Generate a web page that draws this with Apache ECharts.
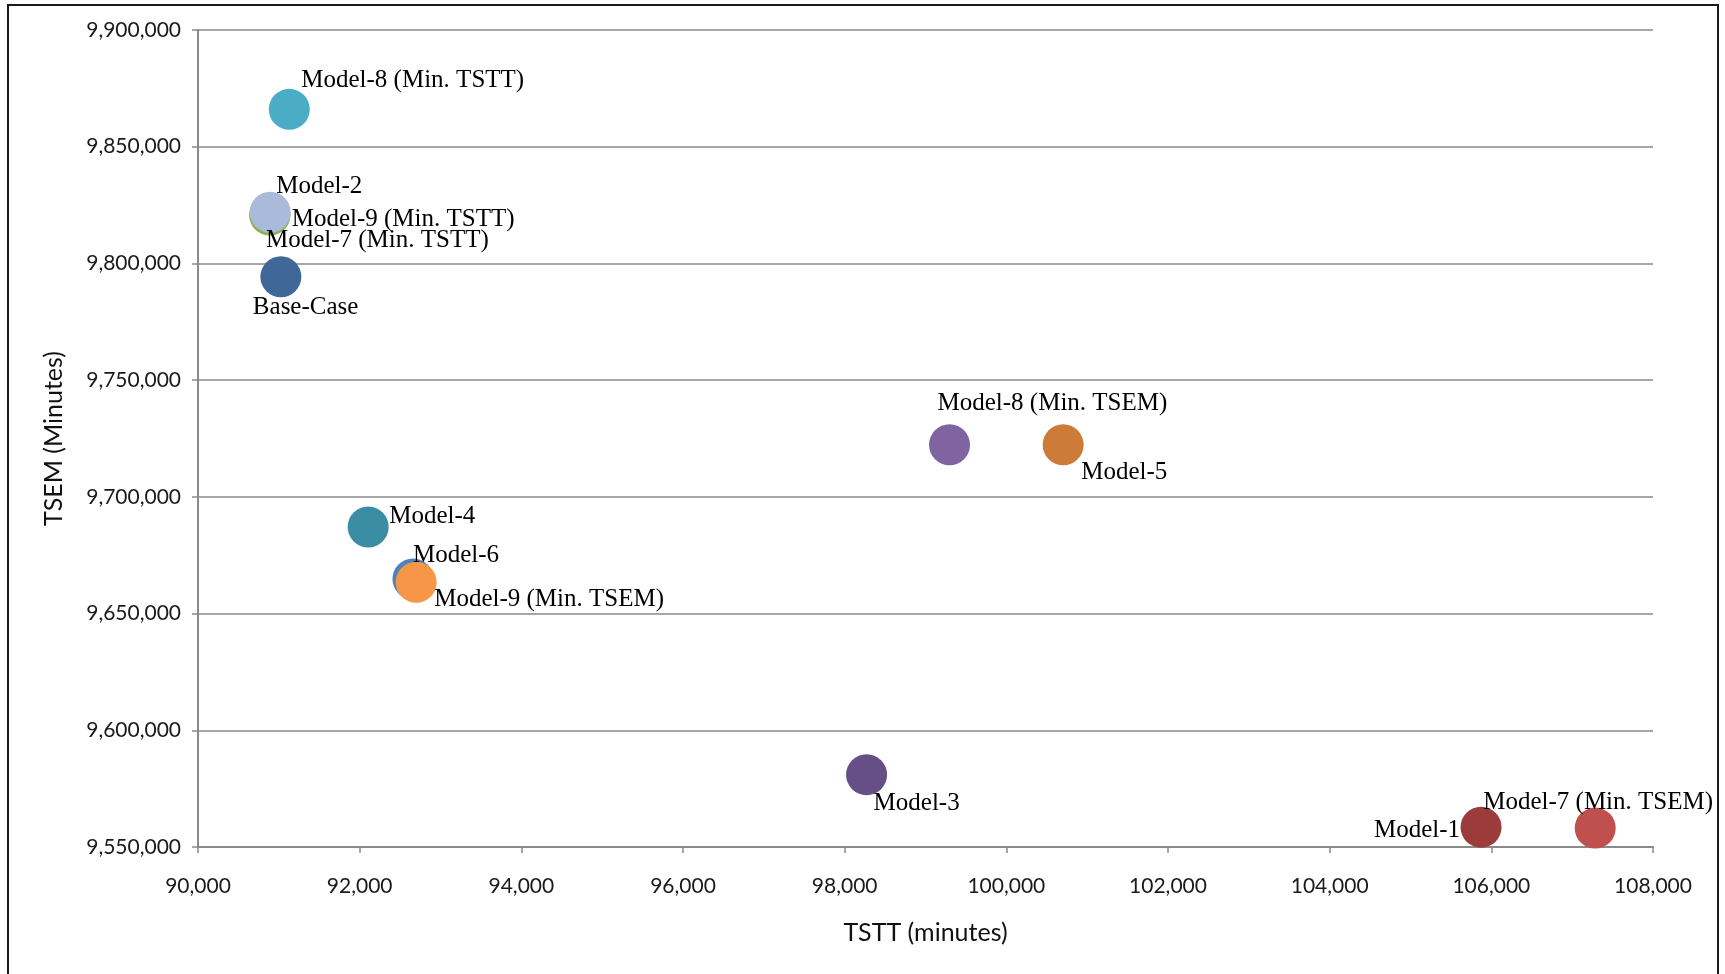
<!DOCTYPE html>
<html>
<head>
<meta charset="utf-8">
<script src="https://cdn.jsdelivr.net/npm/echarts@6/dist/echarts.min.js"></script>
<style>
  html, body { margin: 0; padding: 0; background: #fff; }
  #chart { width: 1725px; height: 974px; }
</style>
</head>
<body>
<div id="chart"></div>
<script>
// Scenario results: total system travel time vs. total system emissions (minutes)
const models = [
  'Model-7 (Min. TSTT)', 'Model-9 (Min. TSTT)', 'Model-2', 'Model-8 (Min. TSTT)',
  'Base-Case', 'Model-4', 'Model-6', 'Model-9 (Min. TSEM)',
  'Model-8 (Min. TSEM)', 'Model-5', 'Model-3', 'Model-1', 'Model-7 (Min. TSEM)'
];
const tstt = [90890, 90887, 90893, 91129, 91025, 92105, 92659, 92699, 99297, 100703, 98271, 105873, 107285];
const tsem = [9821000, 9820700, 9821900, 9866000, 9794300, 9687100, 9664800, 9663400, 9722300, 9722300, 9581000, 9558500, 9558100];

// Axis tick values
const xTicks = [90000, 92000, 94000, 96000, 98000, 100000, 102000, 104000, 106000, 108000];
const yTicks = [9550000, 9600000, 9650000, 9700000, 9750000, 9800000, 9850000, 9900000];

// Marker colours per scenario
const colors = {
  'Model-7 (Min. TSTT)': '#77933C',
  'Model-9 (Min. TSTT)': '#8FB04E',
  'Model-2': '#A9BADA',
  'Model-8 (Min. TSTT)': '#4BACC6',
  'Base-Case': '#3F6898',
  'Model-4': '#3A8DA3',
  'Model-6': '#4F81BD',
  'Model-9 (Min. TSEM)': '#F79646',
  'Model-8 (Min. TSEM)': '#8064A2',
  'Model-5': '#CD7B38',
  'Model-3': '#664E86',
  'Model-1': '#9B3C3A',
  'Model-7 (Min. TSEM)': '#C0504D'
};

// Label placement relative to each marker centre: [dx, dy, align]
const labelPlace = {
  'Model-7 (Min. TSTT)': [-4, 26, 'left'],
  'Model-9 (Min. TSTT)': [22, 4, 'left'],
  'Model-2': [6, -26, 'left'],
  'Model-8 (Min. TSTT)': [12, -29, 'left'],
  'Base-Case': [-28, 31, 'left'],
  'Model-4': [21, -11, 'left'],
  'Model-6': [0, -24, 'left'],
  'Model-9 (Min. TSEM)': [18, 17, 'left'],
  'Model-8 (Min. TSEM)': [-12, -41, 'left'],
  'Model-5': [18, 28, 'left'],
  'Model-3': [7, 29, 'left'],
  'Model-1': [-21, 3, 'right'],
  'Model-7 (Min. TSEM)': [-112, -26, 'left']
};

const SYMBOL = 41;
const fmt = v => v.toLocaleString('en-US');

const data = models.map((name, i) => {
  const p = labelPlace[name];
  return {
    name: name,
    value: [tstt[i], tsem[i]],
    itemStyle: { color: colors[name], opacity: 1 },
    label: {
      show: true,
      // position is measured from the marker's top-left corner
      position: [p[0] + SYMBOL / 2, p[1] + SYMBOL / 2],
      align: p[2],
      verticalAlign: 'middle'
    }
  };
});

const axisGray = '#8a8a8a';
const chart = echarts.init(document.getElementById('chart'), null, { renderer: 'canvas' });
chart.setOption({
  backgroundColor: '#ffffff',
  animation: false,
  grid: { left: 198, right: 72, top: 30, bottom: 127, containLabel: false },
  xAxis: {
    type: 'value',
    min: xTicks[0],
    max: xTicks[xTicks.length - 1],
    interval: xTicks[1] - xTicks[0],
    name: 'TSTT (minutes)',
    nameLocation: 'middle',
    nameGap: 73,
    nameTextStyle: { fontFamily: 'Lato', fontSize: 25, color: '#111' },
    axisLine: { show: true, onZero: false, lineStyle: { color: axisGray, width: 2 } },
    axisTick: { show: true, inside: false, length: 6, lineStyle: { color: axisGray, width: 1.5 } },
    axisLabel: { formatter: fmt, fontFamily: 'Lato', fontSize: 21, color: '#1a1a1a', margin: 29 },
    splitLine: { show: false }
  },
  yAxis: {
    type: 'value',
    min: yTicks[0],
    max: yTicks[yTicks.length - 1],
    interval: yTicks[1] - yTicks[0],
    name: 'TSEM (Minutes)',
    nameLocation: 'middle',
    nameGap: 132,
    nameTextStyle: { fontFamily: 'Lato', fontSize: 25, color: '#111' },
    axisLine: { show: true, onZero: false, lineStyle: { color: axisGray, width: 2 } },
    axisTick: { show: true, inside: false, length: 6, lineStyle: { color: axisGray, width: 1.5 } },
    axisLabel: { formatter: fmt, fontFamily: 'Lato', fontSize: 21, color: '#1a1a1a', margin: 17 },
    splitLine: { show: true, lineStyle: { color: axisGray, width: 1.5 } }
  },
  graphic: [{
    type: 'rect',
    silent: true,
    shape: { x: 8, y: 5, width: 1710, height: 1000 },
    style: { fill: 'none', stroke: '#1a1a1a', lineWidth: 2 }
  }],
  series: [{
    type: 'scatter',
    symbol: 'circle',
    symbolSize: SYMBOL,
    itemStyle: { opacity: 1 },
    data: data,
    label: {
      formatter: '{b}',
      fontFamily: 'Liberation Serif',
      fontSize: 25,
      color: '#000'
    },
    labelLayout: { hideOverlap: false },
    emphasis: { disabled: true }
  }]
});
</script>
</body>
</html>
